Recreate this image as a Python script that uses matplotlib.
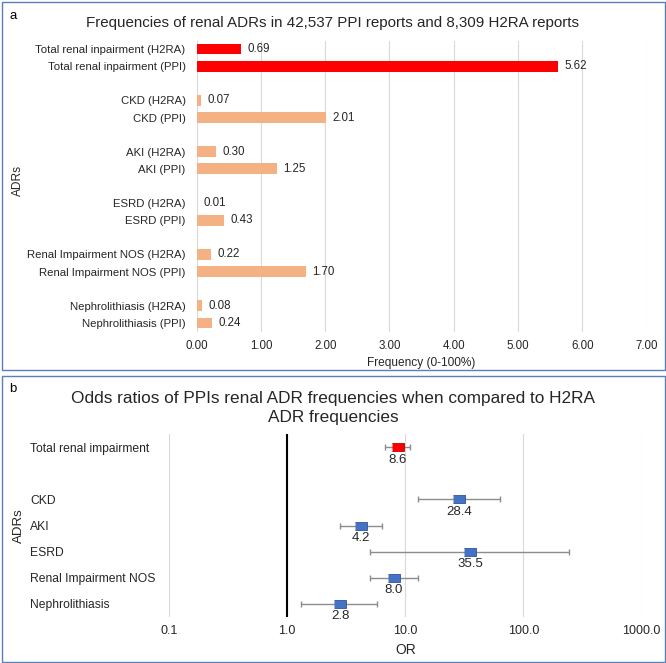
import matplotlib.pyplot as plt
from matplotlib.patches import Rectangle
import numpy as np

plt.rcParams['font.family'] = ['Liberation Sans', 'DejaVu Sans']

# panel a data
freq_groups = ["Total renal inpairment", "CKD", "AKI", "ESRD",
               "Renal Impairment NOS", "Nephrolithiasis"]
h2ra_freq = [0.69, 0.07, 0.30, 0.01, 0.22, 0.08]
ppi_freq = [5.62, 2.01, 1.25, 0.43, 1.70, 0.24]
freq_ticks = [0, 1, 2, 3, 4, 5, 6, 7]

# panel b data
or_groups = ["Total renal impairment", "CKD", "AKI", "ESRD",
             "Renal Impairment NOS", "Nephrolithiasis"]
or_values = [8.6, 28.4, 4.2, 35.5, 8.0, 2.8]
ci_low = [6.7, 12.8, 2.8, 5.0, 5.0, 1.3]
ci_high = [11.0, 63.5, 6.3, 245.0, 12.8, 5.8]
or_ticks = [0.1, 1, 10, 100, 1000]
or_tick_labels = ["0.1", "1.0", "10.0", "100.0", "1000.0"]

W, H = 666, 663
fig = plt.figure(figsize=(W / 100, H / 100), dpi=100)

grid_c = '#D9D9D9'
border_c = '#5B7FB8'
text_c = '#262626'
total_red = '#FF0000'
peach = '#F4B183'

# ---------------- panel a ----------------
ax1 = fig.add_axes([196.7 / W, 1 - 331.5 / H, 449.8 / W, 291 / H])
rows, labels, vals, cols = [], [], [], []
for i, g in enumerate(freq_groups):
    c = total_red if i == 0 else peach
    rows += [3 * i, 3 * i + 1]
    labels += [f"{g} (H2RA)", f"{g} (PPI)"]
    vals += [h2ra_freq[i], ppi_freq[i]]
    cols += [c, c]

ax1.barh(rows, vals, height=0.63, color=cols, zorder=3)
for r, v in zip(rows, vals):
    ax1.annotate(f"{v:.2f}", (v, r), xytext=(4.5, 0), textcoords='offset points',
                 va='center', ha='left', fontsize=8.3, color=text_c)
ax1.set_yticks(rows)
ax1.set_yticklabels(labels, fontsize=8.2)
ax1.set_ylim(16.5, -0.5)
ax1.set_xlim(0, 7)
ax1.set_xticks(freq_ticks)
ax1.set_xticklabels([f"{t:.2f}" for t in freq_ticks], fontsize=8.3)
ax1.tick_params(axis='both', length=0, colors=text_c)
ax1.tick_params(axis='y', pad=8)
ax1.tick_params(axis='x', pad=6)
ax1.grid(axis='x', color=grid_c, lw=0.8, zorder=0)
for s in ax1.spines.values():
    s.set_visible(False)
ax1.set_xlabel("Frequency (0-100%)", fontsize=8.6, color=text_c, labelpad=4)
ax1.set_ylabel("ADRs", fontsize=8.6, color=text_c)
ax1.yaxis.set_label_coords(-0.385, 0.52)

fig.text(333 / W, 1 - 23 / H,
         "Frequencies of renal ADRs in 42,537 PPI reports and 8,309 H2RA reports",
         ha='center', va='center', fontsize=10.9, color=text_c)
fig.text(13 / W, 1 - 16 / H, "a", ha='center', va='center', fontsize=9.5)

# ---------------- panel b ----------------
ax2 = fig.add_axes([169.1 / W, 1 - 617 / H, 472.4 / W, 183 / H])
or_rows = [0] + list(range(2, 2 + len(or_groups) - 1))
x = np.array(or_values)
err = [x - np.array(ci_low), np.array(ci_high) - x]
for i, r in enumerate(or_rows):
    face = total_red if i == 0 else '#4472C4'
    edge = '#C00000' if i == 0 else '#2F5597'
    ax2.errorbar(x[i], r, xerr=[[err[0][i]], [err[1][i]]], fmt='none',
                 ecolor='#8C8C8C', elinewidth=1, capsize=2.5, capthick=1, zorder=3)
    ax2.plot(x[i], r, marker=[(-1.4, -1), (1.4, -1), (1.4, 1), (-1.4, 1)],
             markersize=8, color=face, markeredgecolor=edge, markeredgewidth=0.6,
             linestyle='none', zorder=4)
    ax2.annotate(f"{x[i]:.1f}", (x[i], r), xytext=(0, -9), textcoords='offset points',
                 ha='center', va='center', fontsize=9.5, color=text_c)

ax2.set_xscale('log')
ax2.set_xlim(0.1, 1000)
ax2.set_xticks(or_ticks)
ax2.set_xticklabels(or_tick_labels, fontsize=9)
ax2.xaxis.set_minor_locator(plt.NullLocator())
ax2.set_ylim(6.5, -0.5)
ax2.set_yticks(or_rows)
ax2.set_yticklabels(or_groups, fontsize=8.7)
for t in ax2.get_yticklabels():
    t.set_horizontalalignment('left')
ax2.tick_params(axis='both', length=0, colors=text_c)
ax2.tick_params(axis='y', pad=100)
ax2.tick_params(axis='x', pad=6)
ax2.grid(axis='x', color=grid_c, lw=0.8, zorder=0)
ax2.axvline(1, color='black', lw=1.5, zorder=2)
for s in ax2.spines.values():
    s.set_visible(False)
ax2.set_xlabel("OR", fontsize=10, color=text_c, labelpad=4)
ax2.set_ylabel("ADRs", fontsize=9.5, color=text_c)
ax2.yaxis.set_label_coords(-0.305, 0.5)

fig.text(333 / W, 1 - 408 / H,
         "Odds ratios of PPIs renal ADR frequencies when compared to H2RA\nADR frequencies",
         ha='center', va='center', fontsize=12.4, color=text_c, linespacing=1.38)
fig.text(13 / W, 1 - 389 / H, "b", ha='center', va='center', fontsize=9.5)

# panel borders
fig.add_artist(Rectangle((1.5 / W, 1 - 370 / H), 663 / W, 368.5 / H,
                         transform=fig.transFigure, fill=False,
                         edgecolor=border_c, lw=1))
fig.add_artist(Rectangle((1.5 / W, 1 - 661.5 / H), 663 / W, 285.5 / H,
                         transform=fig.transFigure, fill=False,
                         edgecolor=border_c, lw=1))

fig.savefig("out.png", dpi=100)
